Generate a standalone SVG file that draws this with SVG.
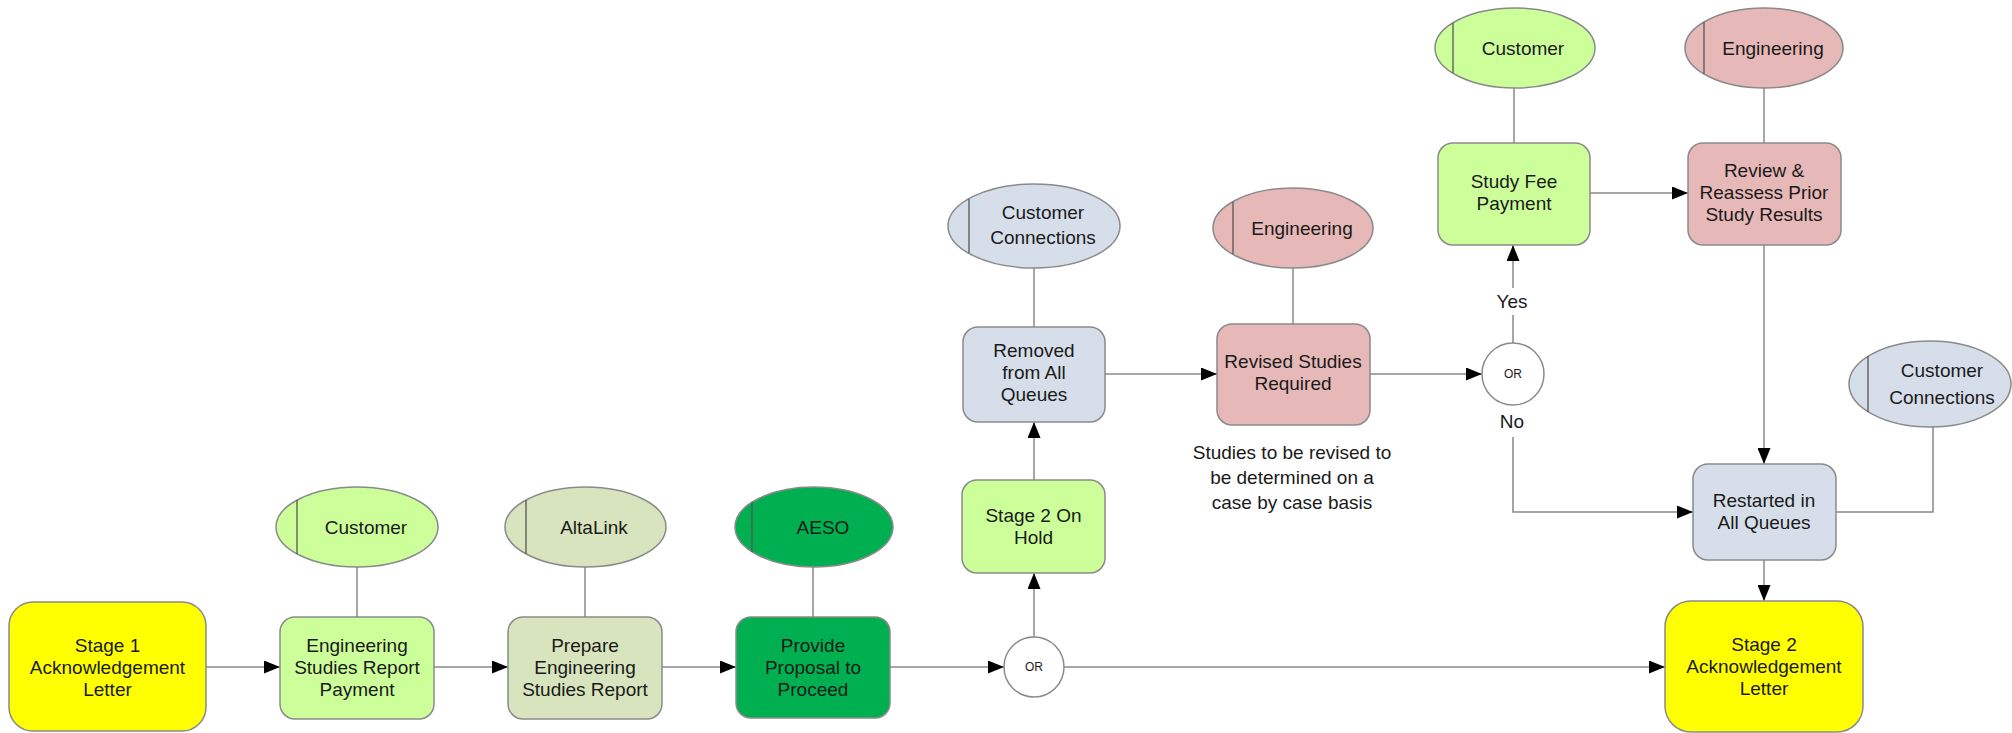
<svg xmlns="http://www.w3.org/2000/svg" width="2012" height="733" viewBox="0 0 2012 733">
<style>
text{font-family:"Liberation Sans",Arial,sans-serif;font-size:19px;fill:#1a1a1a;text-anchor:middle;dominant-baseline:central}
.or{font-size:12px}
.box{stroke:#8a8a8a;stroke-width:1.5}
.ell{stroke:#8a8a8a;stroke-width:1.5}
.bar{stroke:#555;stroke-width:1.3}
.yellow{fill:#ffff00}
.lgreen{fill:#ccff99}
.olive{fill:#d7e4bd}
.dgreen{fill:#00b050}
.blue{fill:#d6dee9}
.pink{fill:#e6b8b7}
.gate{fill:#fff;stroke:#8a8a8a;stroke-width:1.5}
.conn path,.conn line{fill:none;stroke:#888;stroke-width:1.5}
.arr{marker-end:url(#ah)}
</style>
<defs>
<marker id="ah" markerUnits="userSpaceOnUse" markerWidth="16" markerHeight="13" refX="16" refY="6.5" orient="auto">
<path d="M0,0 L16,6.5 L0,13 z" fill="#000"/>
</marker>
</defs>
<rect width="2012" height="733" fill="#fff"/>

<g id="connectors" class="conn">
<line class="arr" x1="206" y1="667" x2="280" y2="667"/>
<line class="arr" x1="434" y1="667" x2="508" y2="667"/>
<line class="arr" x1="662" y1="667" x2="736" y2="667"/>
<line class="arr" x1="890" y1="667" x2="1004" y2="667"/>
<line class="arr" x1="1064" y1="667" x2="1665" y2="667"/>
<line class="arr" x1="1034" y1="637" x2="1034" y2="573"/>
<line class="arr" x1="1034" y1="480" x2="1034" y2="422"/>
<line class="arr" x1="1105" y1="374" x2="1217" y2="374"/>
<line class="arr" x1="1370" y1="374" x2="1482" y2="374"/>
<line x1="1513" y1="343" x2="1513" y2="315"/>
<line class="arr" x1="1513" y1="288" x2="1513" y2="245"/>
<path class="arr" d="M1513,437 L1513,512 L1693,512"/>
<line class="arr" x1="1590" y1="193" x2="1688" y2="193"/>
<line class="arr" x1="1764" y1="245" x2="1764" y2="464"/>
<line class="arr" x1="1764" y1="560" x2="1764" y2="601"/>
<line x1="357" y1="567" x2="357" y2="617"/>
<line x1="585" y1="567" x2="585" y2="617"/>
<line x1="813" y1="567" x2="813" y2="617"/>
<line x1="1034" y1="268" x2="1034" y2="327"/>
<line x1="1293" y1="268" x2="1293" y2="324"/>
<line x1="1514" y1="88" x2="1514" y2="143"/>
<line x1="1764" y1="88" x2="1764" y2="143"/>
<path d="M1933,427 L1933,512 L1836,512"/>
<text x="1512" y="301">Yes</text>
<text x="1512" y="421">No</text>
</g>

<g id="stage1">
<rect class="box yellow" x="9" y="602" width="197" height="129" rx="24"/>
<text x="107.5" y="645">Stage 1</text>
<text x="107.5" y="667">Acknowledgement</text>
<text x="107.5" y="689">Letter</text>
</g>

<g id="esrp">
<rect class="box lgreen" x="280" y="617" width="154" height="102" rx="15"/>
<text x="357" y="645">Engineering</text>
<text x="357" y="667">Studies Report</text>
<text x="357" y="689">Payment</text>
</g>

<g id="customer1">
<ellipse class="ell lgreen" cx="357" cy="527" rx="81" ry="40"/>
<line class="bar" x1="297" y1="500" x2="297" y2="554"/>
<text x="366" y="527">Customer</text>
</g>

<g id="prepare">
<rect class="box olive" x="508" y="617" width="154" height="102" rx="15"/>
<text x="585" y="645">Prepare</text>
<text x="585" y="667">Engineering</text>
<text x="585" y="689">Studies Report</text>
</g>

<g id="altalink">
<ellipse class="ell olive" cx="585.5" cy="527" rx="80.5" ry="40"/>
<line class="bar" x1="526" y1="500" x2="526" y2="554"/>
<text x="594" y="527">AltaLink</text>
</g>

<g id="provide">
<rect class="box dgreen" x="736" y="617" width="154" height="101" rx="15"/>
<text x="813" y="645">Provide</text>
<text x="813" y="667">Proposal to</text>
<text x="813" y="689">Proceed</text>
</g>

<g id="aeso">
<ellipse class="ell dgreen" cx="814" cy="527" rx="79" ry="40"/>
<line class="bar" x1="752" y1="502" x2="752" y2="552"/>
<text x="823" y="527">AESO</text>
</g>

<g id="or1">
<circle class="gate" cx="1034" cy="667" r="30"/>
<text class="or" x="1034" y="667">OR</text>
</g>

<g id="onhold">
<rect class="box lgreen" x="962" y="480" width="143" height="93" rx="15"/>
<text x="1033.5" y="515">Stage 2 On</text>
<text x="1033.5" y="537">Hold</text>
</g>

<g id="removed">
<rect class="box blue" x="963" y="327" width="142" height="95" rx="15"/>
<text x="1034" y="350">Removed</text>
<text x="1034" y="372">from All</text>
<text x="1034" y="394">Queues</text>
</g>

<g id="cc1">
<ellipse class="ell blue" cx="1034" cy="226" rx="86" ry="42"/>
<line class="bar" x1="969" y1="199" x2="969" y2="253"/>
<text x="1043" y="212">Customer</text>
<text x="1043" y="237">Connections</text>
</g>

<g id="revised">
<rect class="box pink" x="1217" y="324" width="153" height="101" rx="15"/>
<text x="1293" y="361">Revised Studies</text>
<text x="1293" y="383">Required</text>
</g>

<g id="eng1">
<ellipse class="ell pink" cx="1293" cy="228" rx="80" ry="40"/>
<line class="bar" x1="1233" y1="202" x2="1233" y2="254"/>
<text x="1302" y="228">Engineering</text>
</g>

<g id="note">
<text x="1292" y="452">Studies to be revised to</text>
<text x="1292" y="477">be determined on a</text>
<text x="1292" y="502">case by case basis</text>
</g>

<g id="or2">
<circle class="gate" cx="1513" cy="374" r="31"/>
<text class="or" x="1513" y="374">OR</text>
</g>

<g id="studyfee">
<rect class="box lgreen" x="1438" y="143" width="152" height="102" rx="15"/>
<text x="1514" y="181">Study Fee</text>
<text x="1514" y="203">Payment</text>
</g>

<g id="customer2">
<ellipse class="ell lgreen" cx="1515" cy="48" rx="80" ry="40"/>
<line class="bar" x1="1453" y1="23" x2="1453" y2="73"/>
<text x="1523" y="48">Customer</text>
</g>

<g id="review">
<rect class="box pink" x="1688" y="143" width="153" height="102" rx="15"/>
<text x="1764" y="170">Review &amp;</text>
<text x="1764" y="192">Reassess Prior</text>
<text x="1764" y="214">Study Results</text>
</g>

<g id="eng2">
<ellipse class="ell pink" cx="1764" cy="48" rx="79" ry="40"/>
<line class="bar" x1="1704" y1="22" x2="1704" y2="74"/>
<text x="1773" y="48">Engineering</text>
</g>

<g id="restarted">
<rect class="box blue" x="1693" y="464" width="143" height="96" rx="15"/>
<text x="1764" y="500">Restarted in</text>
<text x="1764" y="522">All Queues</text>
</g>

<g id="cc2">
<ellipse class="ell blue" cx="1930" cy="384" rx="81" ry="43"/>
<line class="bar" x1="1868" y1="356" x2="1868" y2="412"/>
<text x="1942" y="370">Customer</text>
<text x="1942" y="397">Connections</text>
</g>

<g id="stage2">
<rect class="box yellow" x="1665" y="601" width="198" height="131" rx="26"/>
<text x="1764" y="644">Stage 2</text>
<text x="1764" y="666">Acknowledgement</text>
<text x="1764" y="688">Letter</text>
</g>
</svg>
